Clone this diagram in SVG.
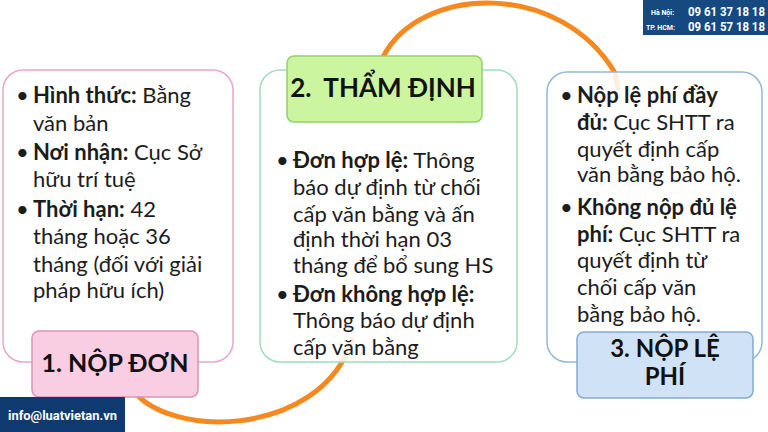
<svg xmlns="http://www.w3.org/2000/svg" width="768" height="432" viewBox="0 0 768 432">
<defs>
<style>
.body{font-family:Lato,"Open Sans","Liberation Sans",sans-serif;font-size:22px;fill:#1c1c1c}
.b{font-weight:700}
.lbl{font-family:Lato,"Open Sans","Liberation Sans",sans-serif;font-weight:700;fill:#111;text-anchor:middle}
.arc{fill:none;stroke:#f5881f;stroke-width:5;stroke-linecap:round}
.panel{fill:#ffffff;fill-opacity:0.86;stroke-width:1.5}
.info{font-family:Roboto,"Liberation Sans",sans-serif;font-weight:700;fill:#ffffff}
</style>
</defs>
<rect width="768" height="432" fill="#ffffff"/>
<g id="connectors">
<path class="arc" d="M383,57 C420,-15 560,-20 615,73 L618,88"/>
<path class="arc" d="M130,385 C160,440 320,440 352,340"/>
</g>
<g id="step1">
<rect class="panel" x="3" y="70" width="230" height="292" rx="20" stroke="#e8a6c8"/>
<text class="body"><tspan x="16" y="103">•</tspan><tspan x="33" class="b">Hình thức:</tspan><tspan> Bằng</tspan><tspan x="33" y="131">văn bản</tspan><tspan x="16" y="160">•</tspan><tspan x="33" class="b">Nơi nhận:</tspan><tspan> Cục Sở</tspan><tspan x="33" y="187">hữu trí tuệ</tspan><tspan x="16" y="217">•</tspan><tspan x="33" class="b">Thời hạn:</tspan><tspan> 42</tspan><tspan x="33" y="244">tháng hoặc 36</tspan><tspan x="33" y="272">tháng (đối với giải</tspan><tspan x="33" y="298">pháp hữu ích)</tspan></text>
<rect x="32" y="331" width="166" height="66" rx="7" fill="#f9cde2" stroke="#dc94b7" stroke-width="1.5"/>
<text class="lbl" x="115" y="372" font-size="25">1. NỘP ĐƠN</text>
</g>
<g id="step2">
<rect class="panel" x="260" y="70" width="257" height="292" rx="20" stroke="#a3dcbf"/>
<text class="body"><tspan x="276" y="168">•</tspan><tspan x="293" class="b">Đơn hợp lệ:</tspan><tspan> Thông</tspan><tspan x="293" y="195">báo dự định từ chối</tspan><tspan x="293" y="222">cấp văn bằng và ấn</tspan><tspan x="293" y="247">định thời hạn 03</tspan><tspan x="293" y="273">tháng để bổ sung HS</tspan><tspan x="276" y="302">•</tspan><tspan x="293" class="b">Đơn không hợp lệ:</tspan><tspan x="293" y="328">Thông báo dự định</tspan><tspan x="293" y="355">cấp văn bằng</tspan></text>
<rect x="287" y="56" width="195" height="66" rx="7" fill="#ccf59f" stroke="#92cf6e" stroke-width="1.5"/>
<text class="lbl" x="383" y="97" font-size="26" xml:space="preserve">2.  THẨM ĐỊNH</text>
</g>
<g id="step3">
<rect class="panel" x="547" y="72" width="215" height="290" rx="20" stroke="#93b8dc"/>
<text class="body"><tspan x="560" y="103">•</tspan><tspan x="577" class="b">Nộp lệ phí đầy</tspan><tspan x="577" y="130" class="b">đủ:</tspan><tspan> Cục SHTT ra</tspan><tspan x="577" y="157">quyết định cấp</tspan><tspan x="577" y="182">văn bằng bảo hộ.</tspan><tspan x="560" y="215">•</tspan><tspan x="577" class="b">Không nộp đủ lệ</tspan><tspan x="577" y="242" class="b">phí:</tspan><tspan> Cục SHTT ra</tspan><tspan x="577" y="268">quyết định từ</tspan><tspan x="577" y="295">chối cấp văn</tspan><tspan x="577" y="322">bằng bảo hộ.</tspan></text>
<rect x="577" y="332" width="176" height="66" rx="7" fill="#d0e3f6" stroke="#84abd2" stroke-width="1.5"/>
<text class="lbl" font-size="24"><tspan x="665" y="357">3. NỘP LỆ</tspan><tspan x="665" y="385">PHÍ</tspan></text>
</g>
<g id="contact-phone">
<rect x="643" y="0" width="125" height="35" fill="#15497f"/>
<text class="info" font-size="7" x="651" y="15">Hà Nội:</text>
<text class="info" font-size="7" x="646" y="30">TP. HCM:</text>
<text class="info" font-size="12" x="688" y="16" textLength="77" lengthAdjust="spacingAndGlyphs">09 61 37 18 18</text>
<text class="info" font-size="12" x="688" y="31" textLength="77" lengthAdjust="spacingAndGlyphs">09 61 57 18 18</text>
</g>
<g id="contact-email">
<rect x="0" y="397" width="125" height="35" fill="#0e3a70"/>
<text class="info" font-size="13" x="8" y="420" textLength="109" lengthAdjust="spacingAndGlyphs">info@luatvietan.vn</text>
</g>
</svg>
